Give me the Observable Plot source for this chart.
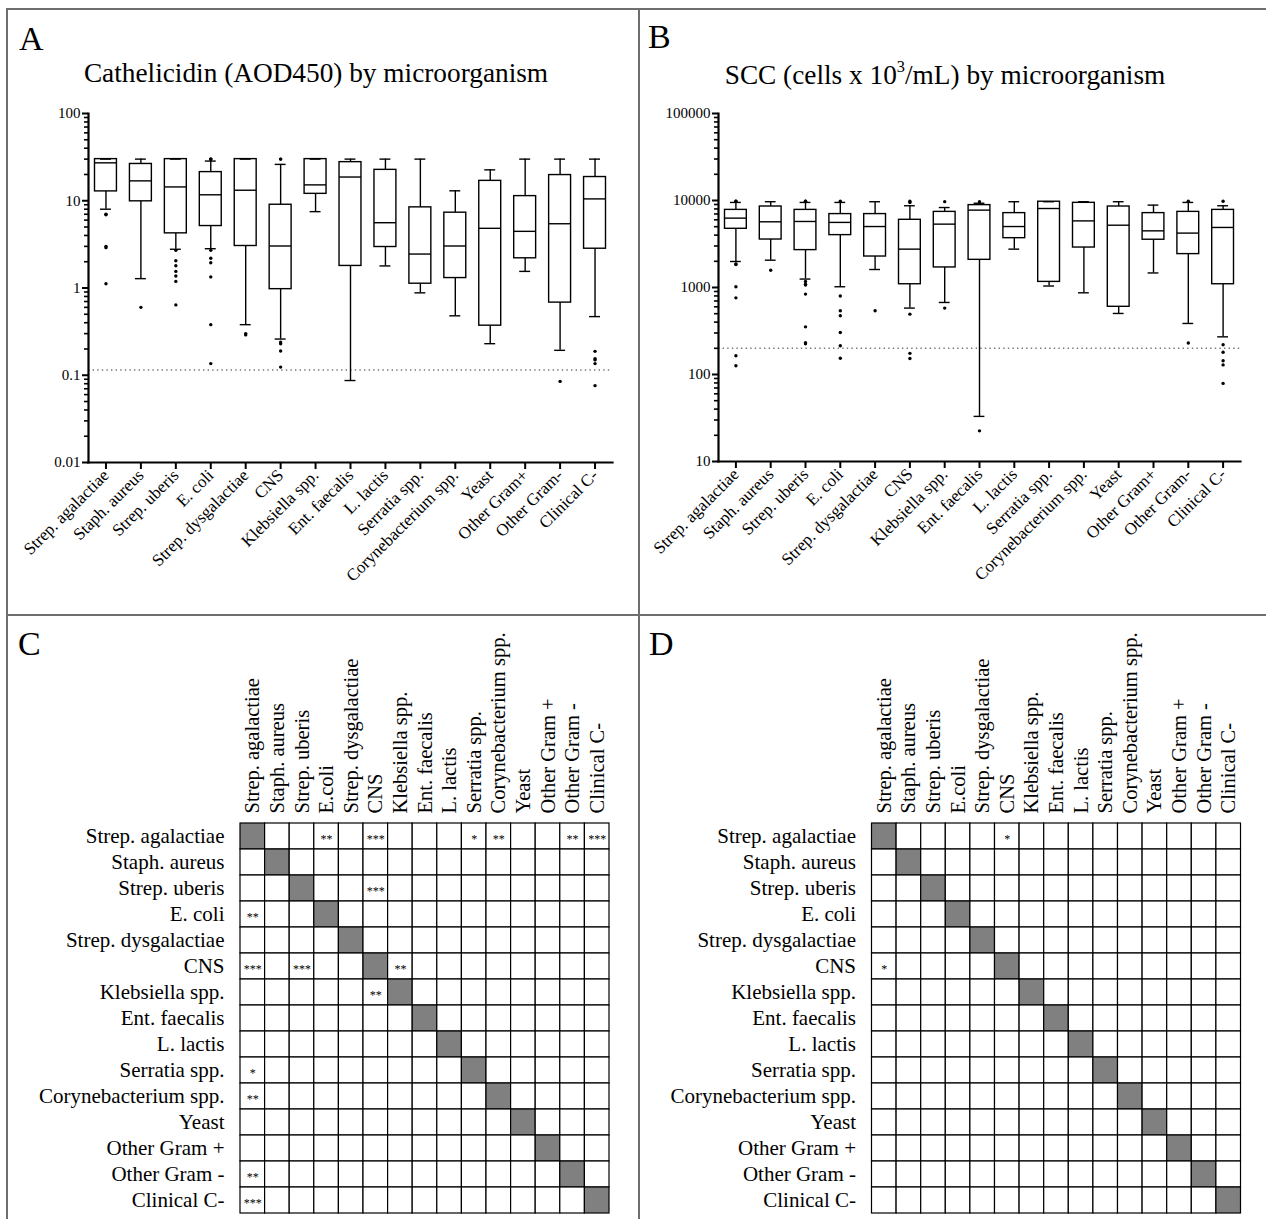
<!DOCTYPE html>
<html>
<head>
<meta charset="utf-8">
<script src="https://cdn.jsdelivr.net/npm/d3@7"></script>
<script src="https://cdn.jsdelivr.net/npm/@observablehq/plot@0.6"></script>
<style>
  html, body { margin: 0; padding: 0; background: #fff; }
  #fig { position: relative; width: 1266px; height: 1219px; background: #fff; overflow: hidden;
         font-family: "Liberation Serif", "Times New Roman", serif; color: #000; }
  .abs { position: absolute; }
  .lbl { position: absolute; line-height: 1; white-space: nowrap; }
  .line { position: absolute; background: #6e6e6e; z-index: 10; }
  .abs svg { max-width: none !important; overflow: visible; background: transparent; }
</style>
</head>
<body>
<div id="fig"></div>
<script>
// ---------------- DATA ----------------
const organisms = ["Strep. agalactiae","Staph. aureus","Strep. uberis","E. coli","Strep. dysgalactiae","CNS","Klebsiella spp.","Ent. faecalis","L. lactis","Serratia spp.","Corynebacterium spp.","Yeast","Other Gram+","Other Gram-","Clinical C-"];

// Panel A: Cathelicidin (AOD450) box summaries
const cathLow  = [8.0, 1.28, 2.78, 2.82, 0.38, 0.26, 7.5, 0.087, 1.79, 0.88, 0.48, 0.23, 1.55, 0.193, 0.47];
const cathQ1   = [12.8, 9.85, 4.23, 5.13, 3.03, 0.97, 12.0, 1.79, 2.95, 1.12, 1.30, 0.37, 2.19, 0.68, 2.82];
const cathMed  = [27.2, 16.9, 14.4, 11.7, 13.2, 3.03, 15.2, 18.7, 5.6, 2.45, 3.03, 4.83, 4.46, 5.45, 10.5];
const cathQ3   = [30, 26.4, 30, 21.3, 30, 9.0, 30, 27.7, 22.6, 8.4, 7.3, 16.9, 11.3, 19.7, 18.7];
const cathHigh = [30, 30, 30, 28.5, 30, 26.1, 30, 30, 30, 30, 13.0, 22.6, 30, 30, 30];
const cathOutliers = [
  ["Strep. agalactiae", 7.0], ["Strep. agalactiae", 6.9], ["Strep. agalactiae", 3.0], ["Strep. agalactiae", 2.9], ["Strep. agalactiae", 1.12],
  ["Staph. aureus", 0.6],
  ["Strep. uberis", 2.7], ["Strep. uberis", 2.05], ["Strep. uberis", 1.8], ["Strep. uberis", 1.55], ["Strep. uberis", 1.37], ["Strep. uberis", 1.19], ["Strep. uberis", 0.64],
  ["E. coli", 30], ["E. coli", 30], ["E. coli", 30], ["E. coli", 2.7], ["E. coli", 2.19], ["E. coli", 1.95], ["E. coli", 1.34], ["E. coli", 0.38], ["E. coli", 0.136],
  ["Strep. dysgalactiae", 0.29], ["Strep. dysgalactiae", 0.30],
  ["CNS", 30], ["CNS", 30], ["CNS", 0.24], ["CNS", 0.23], ["CNS", 0.19], ["CNS", 0.124],
  ["Other Gram-", 0.085],
  ["Clinical C-", 0.188], ["Clinical C-", 0.155], ["Clinical C-", 0.15], ["Clinical C-", 0.136], ["Clinical C-", 0.076]
];
const cathCutoff = 0.115;
const cathTicks = [0.01, 0.1, 1, 10, 100];

// Panel B: SCC (cells x 10^3/mL) box summaries
const sccLow  = [1990, 2060, 1250, 1020, 1610, 580, 673, 33, 2760, 1040, 869, 503, 1470, 386, 271];
const sccQ1   = [4730, 3560, 2690, 4000, 2270, 1090, 1700, 2080, 3690, 1160, 2880, 600, 3540, 2420, 1090];
const sccMed  = [6270, 5690, 5740, 5600, 5020, 2760, 5350, 7750, 5020, 8090, 5830, 5200, 4480, 4220, 4900];
const sccQ3   = [7800, 8530, 7800, 6980, 6980, 6000, 7400, 8850, 7160, 9680, 9400, 8530, 7160, 7400, 7800];
const sccHigh = [9500, 9680, 9500, 9500, 9680, 8700, 8300, 9300, 9680, 9680, 9680, 9680, 8850, 9500, 8700];
const sccOutliers = [
  ["Strep. agalactiae", 9800], ["Strep. agalactiae", 9800], ["Strep. agalactiae", 1860], ["Strep. agalactiae", 1840], ["Strep. agalactiae", 1020], ["Strep. agalactiae", 760], ["Strep. agalactiae", 164], ["Strep. agalactiae", 126],
  ["Staph. aureus", 1580],
  ["Strep. uberis", 9800], ["Strep. uberis", 9800], ["Strep. uberis", 1170], ["Strep. uberis", 1090], ["Strep. uberis", 1070], ["Strep. uberis", 840], ["Strep. uberis", 353], ["Strep. uberis", 232], ["Strep. uberis", 225],
  ["E. coli", 9800], ["E. coli", 800], ["E. coli", 540], ["E. coli", 473], ["E. coli", 304], ["E. coli", 214], ["E. coli", 154],
  ["Strep. dysgalactiae", 540],
  ["CNS", 9800], ["CNS", 9500], ["CNS", 494], ["CNS", 175], ["CNS", 153],
  ["Klebsiella spp.", 9700], ["Klebsiella spp.", 580],
  ["Ent. faecalis", 9700], ["Ent. faecalis", 22.5],
  ["Other Gram-", 9800], ["Other Gram-", 230],
  ["Clinical C-", 9800], ["Clinical C-", 220], ["Clinical C-", 180], ["Clinical C-", 144], ["Clinical C-", 129], ["Clinical C-", 79]
];
const sccCutoff = 200;
const sccTicks = [10, 100, 1000, 10000, 100000];

// Panels C and D: pairwise comparison matrices
const matrixRows = ["Strep. agalactiae","Staph. aureus","Strep. uberis","E. coli","Strep. dysgalactiae","CNS","Klebsiella spp.","Ent. faecalis","L. lactis","Serratia spp.","Corynebacterium spp.","Yeast","Other Gram +","Other Gram -","Clinical C-"];
const matrixCols = ["Strep. agalactiae","Staph. aureus","Strep. uberis","E.coli","Strep. dysgalactiae","CNS","Klebsiella spp.","Ent. faecalis","L. lactis","Serratia spp.","Corynebacterium spp.","Yeast","Other Gram +","Other Gram -","Clinical C-"];
const sigCathelicidin = [
  ["Strep. agalactiae", "E.coli", "**"], ["Strep. agalactiae", "CNS", "***"], ["Strep. agalactiae", "Serratia spp.", "*"],
  ["Strep. agalactiae", "Corynebacterium spp.", "**"], ["Strep. agalactiae", "Other Gram -", "**"], ["Strep. agalactiae", "Clinical C-", "***"],
  ["Strep. uberis", "CNS", "***"],
  ["E. coli", "Strep. agalactiae", "**"],
  ["CNS", "Strep. agalactiae", "***"], ["CNS", "Strep. uberis", "***"], ["CNS", "Klebsiella spp.", "**"],
  ["Klebsiella spp.", "CNS", "**"],
  ["Serratia spp.", "Strep. agalactiae", "*"],
  ["Corynebacterium spp.", "Strep. agalactiae", "**"],
  ["Other Gram -", "Strep. agalactiae", "**"],
  ["Clinical C-", "Strep. agalactiae", "***"]
];
const sigSCC = [
  ["Strep. agalactiae", "CNS", "*"],
  ["CNS", "Strep. agalactiae", "*"]
];

// ---------------- DRAWING ----------------
const SERIF = "'Liberation Serif', 'Times New Roman', serif";
const fig = document.getElementById("fig");

function place(node, left, top) {
  const wrap = document.createElement("div");
  wrap.className = "abs";
  wrap.style.left = left + "px";
  wrap.style.top = top + "px";
  wrap.appendChild(node);
  fig.appendChild(wrap);
}

function label(html, x, baseline, size, anchor = "start") {
  const d = document.createElement("div");
  d.className = "lbl";
  d.style.fontSize = size + "px";
  d.innerHTML = html;
  d.style.top = (baseline - 0.8375 * size) + "px";
  d.style.left = x + "px";
  if (anchor === "middle") d.style.transform = "translateX(-50%)";
  fig.appendChild(d);
}

function boxPanel({low, q1, med, q3, high, outliers, ticks, cutoff, width, height, marginLeft, marginRight, marginTop, marginBottom}) {
  const rows = organisms.map((c, i) => ({c, low: low[i], q1: q1[i], med: med[i], q3: q3[i], high: high[i]}));
  const out = outliers.map(([c, v]) => ({c, v}));
  const minors = [];
  for (let e = Math.log10(ticks[0]); e < Math.log10(ticks[ticks.length - 1]); e++)
    for (let k = 2; k <= 9; k++) minors.push(k * Math.pow(10, e));
  const bw = 6.5, cw = 12;
  return Plot.plot({
    width, height, marginLeft, marginRight, marginTop, marginBottom,
    style: {fontFamily: SERIF, color: "#000", background: "transparent", overflow: "visible"},
    x: {type: "band", domain: organisms, padding: 0, round: false, axis: null},
    y: {type: "log", domain: [ticks[0], ticks[ticks.length - 1]], axis: null},
    marks: [
      Plot.ruleY([cutoff], {stroke: "#777", strokeWidth: 1.4, strokeDasharray: "1.4,3.2"}),
      Plot.ruleX(rows, {x: "c", y1: "low", y2: "q1", stroke: "#000", strokeWidth: 1.4}),
      Plot.ruleX(rows, {x: "c", y1: "q3", y2: "high", stroke: "#000", strokeWidth: 1.4}),
      Plot.barY(rows, {x: "c", y1: "q1", y2: "q3", fill: "#fff", stroke: "#000", strokeWidth: 1.4, insetLeft: bw, insetRight: bw}),
      Plot.tickY(rows, {x: "c", y: "med", stroke: "#000", strokeWidth: 1.4, insetLeft: bw, insetRight: bw}),
      Plot.tickY(rows, {x: "c", y: "low", stroke: "#000", strokeWidth: 1.4, insetLeft: cw, insetRight: cw}),
      Plot.tickY(rows, {x: "c", y: "high", stroke: "#000", strokeWidth: 1.4, insetLeft: cw, insetRight: cw}),
      Plot.dot(out, {x: "c", y: "v", r: 1.7, fill: "#000", stroke: null}),
      Plot.axisY({ticks: minors, tickSize: 4, tickFormat: () => "", strokeWidth: 1.6, label: null}),
      Plot.axisY({ticks, tickSize: 6, tickPadding: 2, strokeWidth: 2, fontSize: 15, tickFormat: d => String(d), label: null}),
      Plot.axisX({tickRotate: -45, tickSize: 7, tickPadding: 3, strokeWidth: 2, fontSize: 17, label: null}),
      Plot.frame({anchor: "left", strokeWidth: 2.2, stroke: "#000"}),
      Plot.frame({anchor: "bottom", strokeWidth: 2.2, stroke: "#000"})
    ]
  });
}

function matrixPanel({sig, width, height, marginLeft, marginRight, marginTop, marginBottom}) {
  const cells = matrixRows.flatMap((r, i) => matrixCols.map((c, j) => ({r, c, fill: i === j ? "#808080" : "#ffffff"})));
  const stars = sig.map(([r, c, s]) => ({r, c, s}));
  return Plot.plot({
    width, height, marginLeft, marginRight, marginTop, marginBottom,
    style: {fontFamily: SERIF, color: "#000", background: "transparent", overflow: "visible"},
    x: {type: "band", domain: matrixCols, padding: 0, round: false, axis: null},
    y: {type: "band", domain: matrixRows, padding: 0, round: false, axis: null},
    color: {type: "identity"},
    marks: [
      Plot.cell(cells, {x: "c", y: "r", fill: "fill", stroke: "#000", strokeWidth: 1.2, inset: 0}),
      Plot.text(stars, {x: "c", y: "r", text: "s", fontSize: 12, dy: 3, fill: "#000"}),
      Plot.axisX({anchor: "top", tickRotate: -90, tickSize: 0, tickPadding: 10, fontSize: 20.5, label: null}),
      Plot.axisY({anchor: "left", tickSize: 0, tickPadding: 16, fontSize: 21, label: null})
    ]
  });
}

// Panel A
place(boxPanel({low: cathLow, q1: cathQ1, med: cathMed, q3: cathQ3, high: cathHigh, outliers: cathOutliers,
  ticks: cathTicks, cutoff: cathCutoff, width: 636, height: 612, marginLeft: 88, marginRight: 24, marginTop: 113, marginBottom: 150}), 0, 0);
// Panel B
place(boxPanel({low: sccLow, q1: sccQ1, med: sccMed, q3: sccQ3, high: sccHigh, outliers: sccOutliers,
  ticks: sccTicks, cutoff: sccCutoff, width: 628, height: 612, marginLeft: 80, marginRight: 26, marginTop: 113, marginBottom: 151}), 638, 0);
// Panel C
place(matrixPanel({sig: sigCathelicidin, width: 636, height: 604, marginLeft: 240, marginRight: 27, marginTop: 208, marginBottom: 6}), 0, 615);
// Panel D
place(matrixPanel({sig: sigSCC, width: 628, height: 604, marginLeft: 233.5, marginRight: 25.5, marginTop: 208, marginBottom: 6}), 638, 615);

// Titles and panel letters
label("Cathelicidin (AOD450) by microorganism", 316, 83, 27.3, "middle");
label("SCC (cells x 10<span style='font-size:60%;position:relative;top:-0.75em'>3</span>/mL) by microorganism", 945, 85, 27.3, "middle");
label("A", 19, 50, 34);
label("B", 648, 48, 34);
label("C", 18, 655, 34);
label("D", 649, 655, 34);

// Panel borders
function line(l, t, w, h) {
  const d = document.createElement("div");
  d.className = "line";
  Object.assign(d.style, {left: l + "px", top: t + "px", width: w + "px", height: h + "px"});
  fig.appendChild(d);
}
line(6, 8, 1260, 2);
line(6, 8, 2, 1211);
line(638, 8, 2, 1211);
line(6, 614, 1260, 2);
</script>
</body>
</html>
